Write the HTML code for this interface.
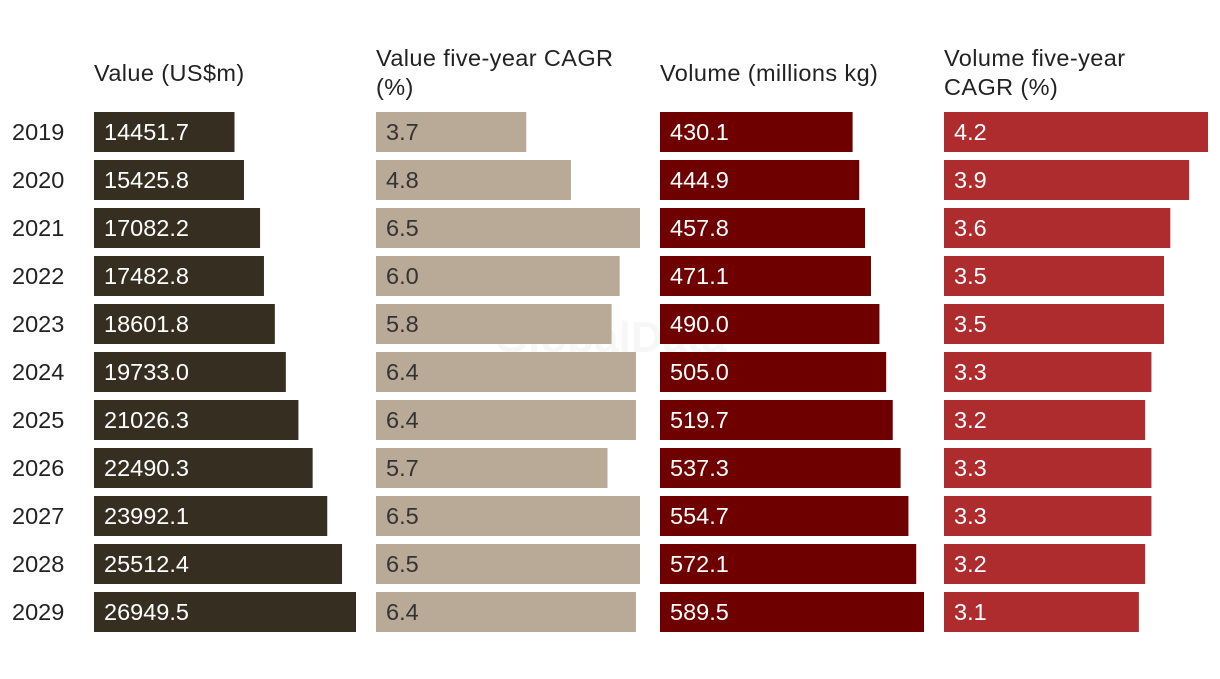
<!DOCTYPE html>
<html><head><meta charset="utf-8">
<style>
body{margin:0;background:#fff;width:1220px;height:674px;overflow:hidden;font-family:"Liberation Sans",sans-serif;}
svg text{font-family:"Liberation Sans",sans-serif;}
</style></head>
<body>
<svg id="chart" width="1220" height="674" xmlns="http://www.w3.org/2000/svg"></svg>
<script>
const years=["2019","2020","2021","2022","2023","2024","2025","2026","2027","2028","2029"];
const valueUsd=[14451.7,15425.8,17082.2,17482.8,18601.8,19733.0,21026.3,22490.3,23992.1,25512.4,26949.5];
const valueCagr=[3.7,4.8,6.5,6.0,5.8,6.4,6.4,5.7,6.5,6.5,6.4];
const volume=[430.1,444.9,457.8,471.1,490.0,505.0,519.7,537.3,554.7,572.1,589.5];
const volumeCagr=[4.2,3.9,3.6,3.5,3.5,3.3,3.2,3.3,3.3,3.2,3.1];
const panelTitles=[["Value (US$m)"],["Value five-year CAGR","(%)"],["Volume (millions kg)"],["Volume five-year","CAGR (%)"]];
const decimals=[1,1,1,1];

const svg=document.getElementById('chart');
const NS="http://www.w3.org/2000/svg";
function mk(tag,attrs){const e=document.createElementNS(NS,tag);for(const k in attrs)e.setAttribute(k,attrs[k]);svg.appendChild(e);return e;}

const series=[valueUsd,valueCagr,volume,volumeCagr];
const panelX=[94,376,660,944];
const fills=["#372e22","#b8aa96","#6e0000","#ae2b2e"];
const textCol=["#fff","#333","#fff","#fff"];
const names=["value-usd","value-cagr","volume","volume-cagr"];
const maxWs=[262,264,264,264];
const rowY=i=>112+i*48;
const FS=23.5;

const wm=mk('text',{x:610,y:352,'font-size':44,'font-weight':'bold',fill:'#000','fill-opacity':0.03,'text-anchor':'middle'});
wm.textContent="GlobalData";



years.forEach((y,i)=>{
  const t=mk('text',{x:12,y:rowY(i)+28,'font-size':FS,fill:'#222'});
  t.textContent=y;
  
  
});

series.forEach((data,p)=>{
  const mx=Math.max(...data);
  const sx=v=>v/mx*maxWs[p];
  const lines=panelTitles[p];
  lines.forEach((ln,k)=>{
    const ty=lines.length===1?81:(66+k*29);
    const t=mk('text',{x:panelX[p],y:ty,'font-size':FS,fill:'#222','letter-spacing':0.4});
    t.textContent=ln;
    
    
  });
  data.forEach((v,i)=>{
    const r=mk('rect',{x:panelX[p],y:rowY(i),width:sx(v),height:40,fill:fills[p]});
    
    
    const t=mk('text',{x:panelX[p]+10,y:rowY(i)+28,'font-size':FS,fill:textCol[p]});
    t.textContent=v.toFixed(decimals[p]);
    
    
  });
});
</script>
</body></html>
